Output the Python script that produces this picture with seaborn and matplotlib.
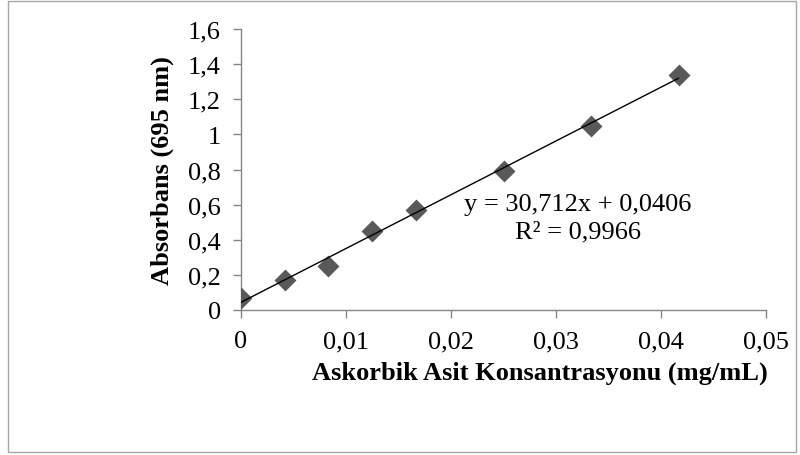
import matplotlib
matplotlib.use("Agg")
import matplotlib.pyplot as plt
import matplotlib.patches as mpatches
from matplotlib.ticker import FixedLocator, FuncFormatter
import pandas as pd
import seaborn as sns

konsantrasyon = [0, 0.00417, 0.00833, 0.0125, 0.01667, 0.025, 0.0333, 0.04167]
absorbans = [0.07, 0.17, 0.25, 0.45, 0.57, 0.79, 1.05, 1.34]
x_ticks = [0, 0.01, 0.02, 0.03, 0.04, 0.05]
y_ticks = [0, 0.2, 0.4, 0.6, 0.8, 1.0, 1.2, 1.4, 1.6]
denklem = "y = 30,712x + 0,0406\nR² = 0,9966"

df = pd.DataFrame({"x": konsantrasyon, "y": absorbans})

sns.set_theme(style="white")
plt.rcParams["font.family"] = ["Liberation Serif", "DejaVu Serif"]

fig = plt.figure(figsize=(8, 4.56), dpi=100)
ax = fig.add_axes([0.30125, 0.318, 0.65625, 0.616])

sns.regplot(data=df, x="x", y="y", ax=ax, ci=None, marker="D",
            scatter_kws={"s": 125, "color": "#595959", "alpha": 1, "zorder": 3,
                         "linewidths": 0},
            line_kws={"color": "black", "lw": 1, "zorder": 4})

ax.set_xlim(0, 0.05)
ax.set_ylim(0, 1.6)

def virgul(v, pos):
    s = ("%.2f" % v).rstrip("0").rstrip(".")
    return s.replace(".", ",")

ax.xaxis.set_major_locator(FixedLocator(x_ticks))
ax.yaxis.set_major_locator(FixedLocator(y_ticks))
ax.xaxis.set_major_formatter(FuncFormatter(virgul))
ax.yaxis.set_major_formatter(FuncFormatter(virgul))

for side in ["top", "right"]:
    ax.spines[side].set_visible(False)
for side in ["left", "bottom"]:
    ax.spines[side].set_color("#868686")
    ax.spines[side].set_linewidth(1)

ax.tick_params(axis="both", which="major", direction="out", length=5.5,
               width=1, color="#868686", labelsize=19, labelcolor="black",
               left=True, bottom=True)
ax.tick_params(axis="x", pad=9)
ax.tick_params(axis="y", pad=9)

ax.set_xlabel("Askorbik Asit Konsantrasyonu (mg/mL)", fontsize=19,
              fontweight="bold", color="black")
ax.set_ylabel("Absorbans (695 nm)", fontsize=19, fontweight="bold",
              color="black")
ax.xaxis.set_label_coords(0.57, -0.18)
ax.yaxis.set_label_coords(-0.128, 0.5)

ax.text(0.642, 0.328, denklem, transform=ax.transAxes, ha="center",
        va="center", fontsize=19, color="black", linespacing=1.3)

fig.patches.append(mpatches.Rectangle((0.01, 0.007), 0.985, 0.989,
                                      transform=fig.transFigure, fill=False,
                                      edgecolor="#a6a6a6", linewidth=1))

fig.savefig("out.png", dpi=100)
